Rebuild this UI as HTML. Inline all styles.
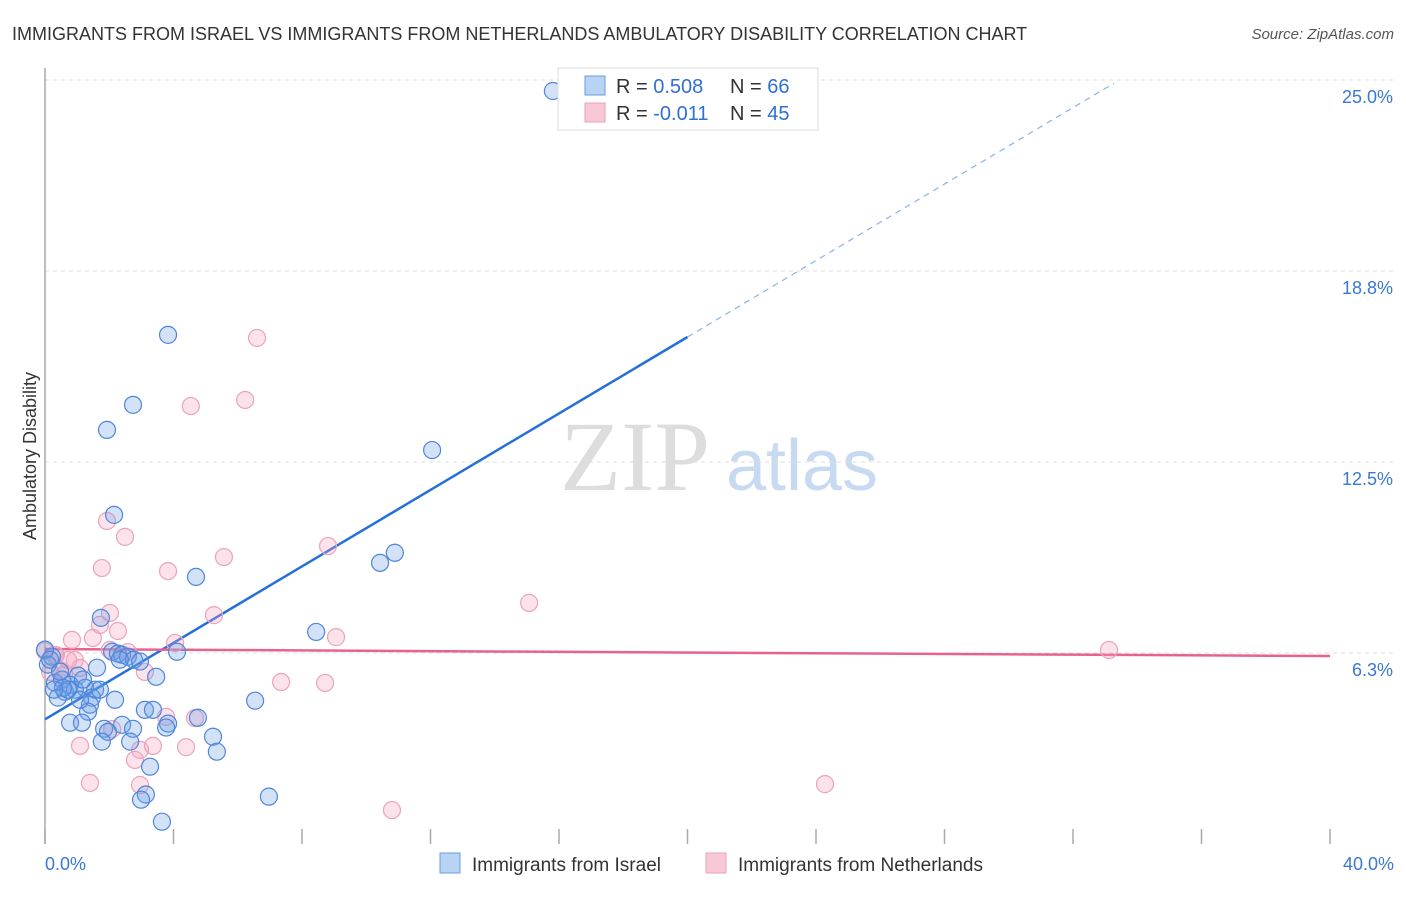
<!DOCTYPE html>
<html><head><meta charset="utf-8"><style>
body{margin:0;background:#fff;font-family:"Liberation Sans",sans-serif;}
svg text{font-family:"Liberation Sans",sans-serif;}
</style></head><body>
<svg id="chart" width="1406" height="892">
<text x="12" y="40" font-size="18" fill="#333">IMMIGRANTS FROM ISRAEL VS IMMIGRANTS FROM NETHERLANDS AMBULATORY DISABILITY CORRELATION CHART</text>
<text x="1394" y="39" font-size="15" fill="#555" font-style="italic" text-anchor="end">Source: ZipAtlas.com</text>
<text x="36" y="456" font-size="18" fill="#333" text-anchor="middle" transform="rotate(-90 36 456)">Ambulatory Disability</text>
<g><text x="635" y="490" font-size="100" fill="#ddd" style="font-family:'Liberation Serif',serif" text-anchor="middle">ZIP</text><text x="802" y="490" font-size="72" fill="#c8daf2" text-anchor="middle">atlas</text></g>
<g id="grid"></g><g id="axes"></g><g id="lines"></g><g id="pts"></g>
<g>
<rect x="558" y="68" width="260" height="62" fill="#fff" stroke="#ddd"/>
<rect x="585" y="76" width="20" height="19" fill="#b9d3f5" stroke="#6b9be0"/>
<rect x="585" y="103" width="20" height="19" fill="#f9c8d6" stroke="#eaa0b8"/>
<text x="616" y="93" font-size="20" fill="#333">R = <tspan fill="#2f6fd6">0.508</tspan><tspan x="730">N = </tspan><tspan fill="#2f6fd6">66</tspan></text>
<text x="616" y="120" font-size="20" fill="#333">R = <tspan fill="#2f6fd6">-0.011</tspan><tspan x="730">N = </tspan><tspan fill="#2f6fd6">45</tspan></text>
</g>
<g>
<rect x="440" y="853" width="20" height="20" fill="#b9d3f5" stroke="#6b9be0"/>
<text x="472" y="871" font-size="19" fill="#333">Immigrants from Israel</text>
<rect x="706" y="853" width="20" height="20" fill="#f9c8d6" stroke="#eaa0b8"/>
<text x="738" y="871" font-size="19" fill="#333">Immigrants from Netherlands</text>
</g>
</svg>
<script>
const israelX=[15.81,3.83,2.74,1.93,12.05,2.15,10.89,10.43,4.70,1.74,8.44,4.11,2.09,2.27,2.40,2.58,2.77,0.22,0.09,1.62,3.46,1.03,0.31,0.53,0.78,1.25,0.62,0.93,1.56,1.46,2.18,6.54,0.40,1.40,1.34,3.11,3.36,4.76,0.78,1.15,3.83,3.77,2.40,2.74,1.84,1.96,5.23,1.77,2.65,5.35,3.27,3.14,2.99,6.97,3.64,0,0.16,0.47,0.72,1.09,0.56,1.71,1.18,2.33,2.96,0.28];
const israelY=[24.64,16.66,14.37,13.55,12.89,10.77,9.53,9.20,8.74,7.40,6.94,6.29,6.29,6.23,6.19,6.13,6.03,6.13,5.87,5.77,5.47,5.51,5.28,5.38,5.21,5.11,4.98,5.05,5.05,4.79,4.72,4.69,4.79,4.56,4.33,4.39,4.39,4.13,3.97,3.97,3.94,3.81,3.90,3.77,3.77,3.67,3.51,3.35,3.35,3.02,2.53,1.62,1.45,1.55,0.73,6.36,6.03,5.64,5.05,4.72,5.11,5.05,5.38,6.03,5.97,5.05];
const nethX=[6.60,4.54,6.23,1.93,2.49,1.77,3.83,5.57,8.81,2.02,5.26,15.07,2.27,1.49,0.84,4.05,9.06,2.58,0,33.12,0.31,0.72,0.47,0.16,1.09,3.11,7.35,8.72,4.67,3.77,1.09,3.36,2.96,4.39,2.80,1.40,2.96,24.28,10.80,2.09,0.34,1.71,0.59,0.93,2.02];
const nethY=[16.56,14.33,14.53,10.57,10.05,9.03,8.93,9.39,9.75,7.56,7.49,7.89,6.97,6.74,6.68,6.58,6.77,6.28,6.31,6.35,6.18,6.02,5.69,5.63,5.76,5.63,5.30,5.27,4.12,4.16,3.21,3.21,3.08,3.17,2.75,2.00,1.93,1.96,1.11,3.76,6.18,7.17,5.53,6.02,6.35];
const israelTrend=[4.08,16.59]; // y at x=0, x=20
const nethTrend=[6.38,6.15]; // y at x=0, x=40
const yTicks=[25,18.75,12.5,6.25];
const yTickLabels=["25.0%","18.8%","12.5%","6.3%"];
const xTicks=[0,4,8,12,16,20,24,28,32,36,40];
const NS="http://www.w3.org/2000/svg";
const xs=v=>45+v*32.125;
const ys=v=>80+(25-v)*30.56;
function mk(p,t,a){const e=document.createElementNS(NS,t);for(const k in a)e.setAttribute(k,a[k]);document.getElementById(p).appendChild(e);return e;}
yTicks.forEach((v,i)=>{
 const g=mk('grid','line',{x1:45,x2:1394,y1:ys(v),y2:ys(v),stroke:'#ddd','stroke-dasharray':'4,4'});
 
 
 const t=mk('grid','text',{x:1393,y:ys(v)+23,'font-size':18,fill:'#3a78d6','text-anchor':'end'});
 t.textContent=yTickLabels[i];
 
 
});
const ax=mk('axes','line',{x1:45,x2:45,y1:68,y2:844,stroke:'#aaa','stroke-width':1.5});


xTicks.forEach(v=>{
 const l=mk('axes','line',{x1:xs(v),x2:xs(v),y1:829,y2:844,stroke:'#aaa','stroke-width':1.5});
 
 
});
const x0=mk('axes','text',{x:45,y:870,'font-size':18,fill:'#3a78d6'});x0.textContent='0.0%';


const x1=mk('axes','text',{x:1394,y:870,'font-size':18,fill:'#3a78d6','text-anchor':'end'});x1.textContent='40.0%';


const slope=(israelTrend[1]-israelTrend[0])/20;
const bl=mk('lines','line',{x1:xs(0),y1:ys(israelTrend[0]),x2:xs(20),y2:ys(israelTrend[1]),stroke:'#2470d8','stroke-width':2.5});


const bd=mk('lines','line',{x1:xs(20),y1:ys(israelTrend[1]),x2:xs(33.27),y2:ys(israelTrend[0]+slope*33.27),stroke:'#8fb3e6','stroke-width':1.2,'stroke-dasharray':'6,5'});


const pl=mk('lines','line',{x1:xs(0),y1:ys(nethTrend[0]),x2:xs(40),y2:ys(nethTrend[1]),stroke:'#e8628e','stroke-width':2.5});


nethX.forEach((x,i)=>{
 const c=mk('pts','circle',{cx:xs(x),cy:ys(nethY[i]),r:8.5,fill:'rgba(245,160,190,0.3)',stroke:'#eba3bb','stroke-width':1.2});
 
 
});
israelX.forEach((x,i)=>{
 const c=mk('pts','circle',{cx:xs(x),cy:ys(israelY[i]),r:8.5,fill:'rgba(110,160,230,0.3)',stroke:'#4f86dc','stroke-width':1.2});
 
 
});
</script>
</body></html>
